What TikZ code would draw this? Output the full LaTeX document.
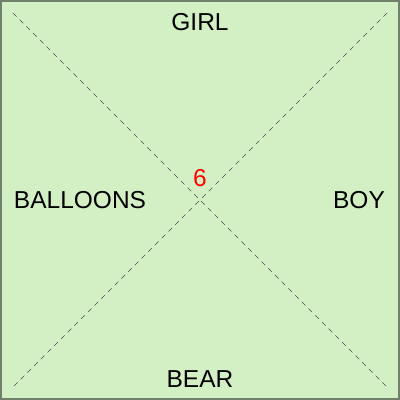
\documentclass[tikz,border=0pt]{standalone}
\usepackage{fontspec}
\setmainfont{Liberation Sans}
\usepackage{xcolor}
\usepackage{tikz}
\definecolor{boardgreen}{RGB}{211,240,196}
\definecolor{boardedge}{RGB}{112,128,108}
\tikzset{word/.style={font=\fontsize{24.5}{28}\selectfont, text=black}}

\begin{document}
\begin{tikzpicture}[x=1pt,y=1pt]
\useasboundingbox (0,0) rectangle (400,400);
% Board
\draw[boardedge, line width=2pt, fill=boardgreen] (1,1) rectangle (399,399);

% Corners
\coordinate (tl) at (13,387);
\coordinate (tr) at (387,387);
\coordinate (bl) at (13,13);
\coordinate (br) at (387,13);

% Diagonals
\draw[black!70, line width=0.7pt, dash pattern=on 5pt off 4.5pt] (tl) -- (br);
\draw[black!70, line width=0.7pt, dash pattern=on 5pt off 4.5pt] (tr) -- (bl);

% Labels
\node[word] (girl) at (200,378) {GIRL};
\node[word] (bear) at (200,21) {BEAR};
\node[word] (balloons) at (80,200) {BALLOONS};
\node[word] (boy) at (359,200) {BOY};
\node[word, text=red] (count) at (200,222) {6};
\end{tikzpicture}
\end{document}
